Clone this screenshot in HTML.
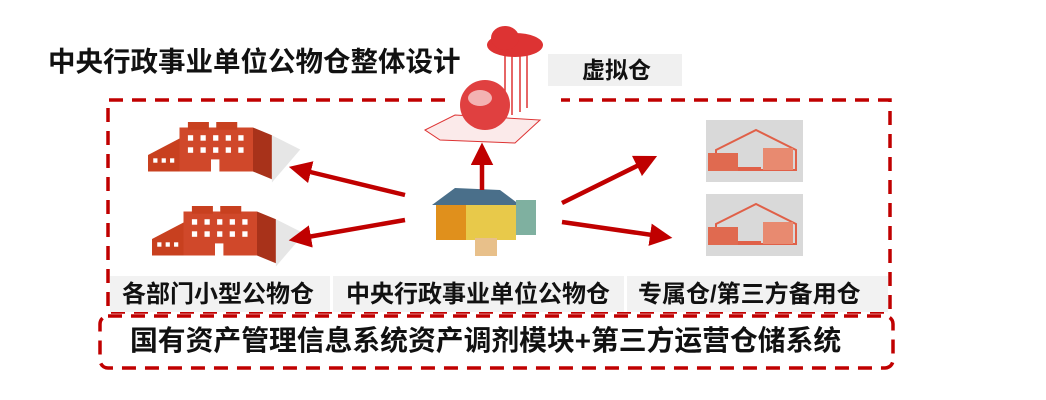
<!DOCTYPE html>
<html><head><meta charset="utf-8"><style>
body{margin:0;width:1046px;height:400px;background:#fff;overflow:hidden;position:relative;font-family:"Liberation Sans","Noto Sans CJK SC",sans-serif;font-weight:bold}
.t{position:absolute;white-space:nowrap;color:#111;line-height:1}
</style></head><body>
<svg width="1046" height="400" style="position:absolute;left:0;top:0">
<defs>
<marker id="a" markerWidth="5" markerHeight="5" refX="2" refY="2.5" orient="auto"><path d="M0,0 L5,2.5 L0,5 z" fill="#c00000"/></marker>
<g id="bld">
<polygon points="0,30 0,45 30,45 30,15" fill="#c8401f"/>
<rect x="30" y="5" width="70" height="40" fill="#d0482a"/>
<polygon points="100,5 118,12 118,52 100,45" fill="#a8321a"/>
<rect x="38" y="0" width="20" height="7" fill="#c8401f"/><rect x="65" y="0" width="20" height="7" fill="#c8401f"/>
<g fill="#fff"><rect x="38" y="12" width="5" height="5"/><rect x="50" y="12" width="5" height="5"/><rect x="62" y="12" width="5" height="5"/><rect x="74" y="12" width="5" height="5"/><rect x="86" y="12" width="5" height="5"/>
<rect x="38" y="23" width="5" height="5"/><rect x="50" y="23" width="5" height="5"/><rect x="62" y="23" width="5" height="5"/><rect x="74" y="23" width="5" height="5"/><rect x="86" y="23" width="5" height="5"/>
<rect x="60" y="34" width="8" height="11"/><rect x="5" y="33" width="4" height="4"/><rect x="13" y="33" width="4" height="4"/><rect x="21" y="33" width="4" height="4"/></g>
<polygon points="118,12 145,25 118,55" fill="#e6e6e6"/>
</g>
<g id="wh">
<rect width="97" height="62" fill="#d9d9d9"/>
<polygon points="10,30 50,10 90,30 90,50 10,50" fill="none" stroke="#e06048" stroke-width="2"/>
<rect x="2" y="33" width="30" height="18" fill="#e06a50"/>
<rect x="57" y="28" width="30" height="22" fill="#e88a70"/>
<line x1="32" y1="48" x2="55" y2="48" stroke="#e06048" stroke-width="2"/>
</g>
</defs>
<path d="M445,100 L108,100 L108,312 L890,312 L890,100 L561,100" fill="none" stroke="#c00000" stroke-width="3.5" stroke-dasharray="14,9"/>
<rect x="110" y="276" width="778" height="36" fill="#f2f2f2"/>
<rect x="330" y="276" width="3" height="36" fill="#fff"/><rect x="624" y="276" width="3" height="36" fill="#fff"/>
<rect x="100" y="316" width="793" height="52" rx="8" fill="none" stroke="#c00000" stroke-width="3.5" stroke-dasharray="14,9"/>
<rect x="548" y="54" width="134" height="32" fill="#f0f0f0"/>
<g transform="translate(148,122) scale(1.05,1.1)"><use href="#bld"/></g>
<g transform="translate(152,206) scale(1.05,1.1)"><use href="#bld"/></g>
<use href="#wh" x="706" y="120"/>
<use href="#wh" x="706" y="194"/>
<ellipse cx="515" cy="45" rx="28" ry="12" fill="#d33"/>
<ellipse cx="505" cy="38" rx="14" ry="12" fill="#d33"/>
<g stroke="#d33" stroke-width="1.5"><line x1="505" y1="55" x2="505" y2="110"/><line x1="512" y1="55" x2="512" y2="115"/><line x1="520" y1="55" x2="520" y2="112"/><line x1="527" y1="55" x2="527" y2="108"/></g>
<polygon points="425,130 455,115 540,120 515,143 440,140" fill="#fbeaea" stroke="#d33"/>
<circle cx="485" cy="105" r="25" fill="#e04040"/>
<ellipse cx="480" cy="98" rx="12" ry="8" fill="#fff" opacity=".6"/>
<polygon points="432,205 455,188 500,190 520,205" fill="#4a6f8a"/>
<rect x="436" y="205" width="80" height="35" fill="#e8c94a"/>
<rect x="436" y="205" width="30" height="35" fill="#e0901c"/>
<rect x="516" y="200" width="20" height="35" fill="#7fb0a0"/>
<rect x="475" y="238" width="22" height="18" fill="#e8c08a"/>
<g stroke="#c00000" stroke-width="4.5" fill="none" marker-end="url(#a)">
<line x1="405" y1="195" x2="302" y2="170"/>
<line x1="405" y1="220" x2="302" y2="238"/>
<line x1="482" y1="190" x2="482" y2="156"/>
<line x1="562" y1="203" x2="645" y2="162"/>
<line x1="562" y1="222" x2="659" y2="236"/>
</g>
</svg>
<div class="t" style="left:48px;top:48px;font-size:27.5px">中央行政事业单位公物仓整体设计</div>
<div class="t" style="left:582px;top:59px;font-size:23px">虚拟仓</div>
<div class="t" style="left:122px;top:283px;font-size:24px">各部门小型公物仓</div>
<div class="t" style="left:346px;top:283px;font-size:24px">中央行政事业单位公物仓</div>
<div class="t" style="left:638px;top:283px;font-size:24px">专属仓/第三方备用仓</div>
<div class="t" style="left:130px;top:327px;font-size:27.8px">国有资产管理信息系统资产调剂模块+第三方运营仓储系统</div>
</body></html>
